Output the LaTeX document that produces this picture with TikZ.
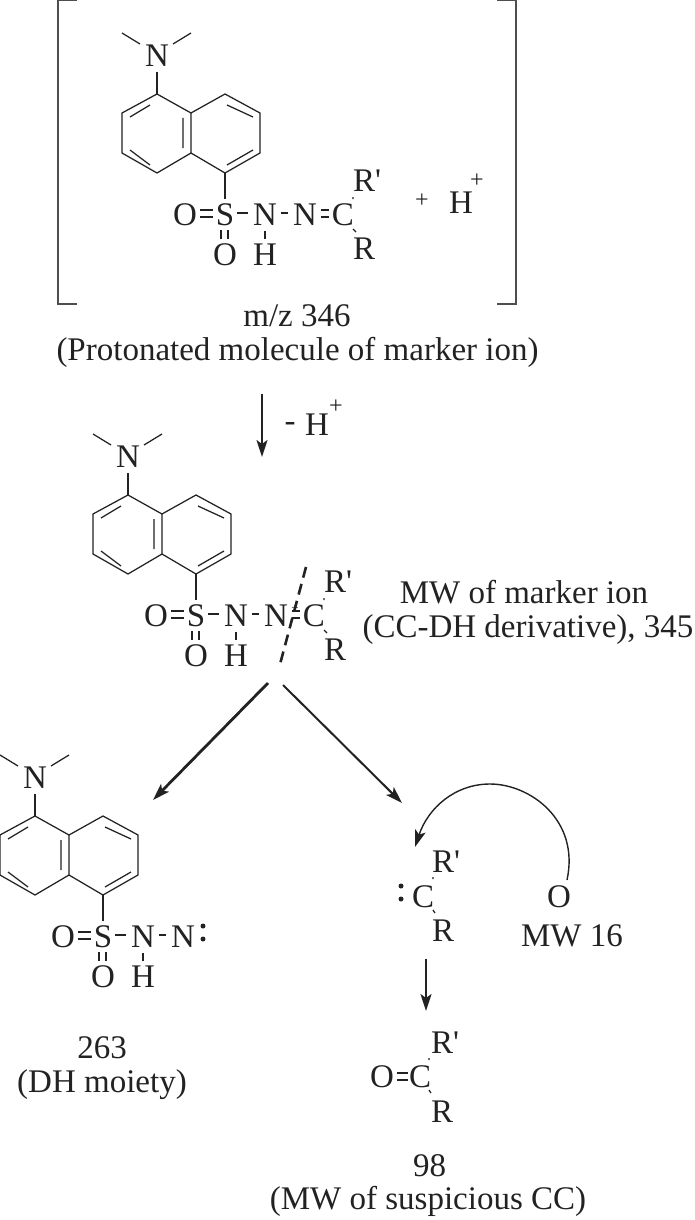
\documentclass[tikz,border=0pt]{standalone}
\usepackage{fontspec}
\setmainfont{Liberation Serif}
\usetikzlibrary{arrows.meta}
\definecolor{ink}{HTML}{222222}
\newcommand{\Rp}{R\textquotesingle}
\tikzset{
  x=1pt,y=-1pt,
  bond/.style={draw=ink,line width=1.25pt},
  atom/.style={text=ink,inner sep=0pt,font=\fontsize{33}{33}\selectfont},
  lab/.style={text=ink,inner sep=0pt,anchor=base,font=\fontsize{33}{33}\selectfont},
  small/.style={text=ink,inner sep=0pt,font=\fontsize{24}{24}\selectfont},
  rarrow/.style={draw=ink,line width=2pt,-{Stealth[length=17pt,width=11pt,inset=4pt]}},
  dot/.style={fill=ink,draw=none,circle,minimum size=5pt,inner sep=0pt},
}
\newcommand{\dansyl}[1]{%
  \node[atom] (#1N) at (157,56) {N};
  \draw[bond] (140,44) -- (122,33) (173,44) -- (191,33);
  \draw[bond] (157,72) -- (157,94);
  \draw[bond] (157,94) -- (122,113) -- (122,153) -- (157,173) -- (191,153) -- (191,113) -- cycle;
  \draw[bond] (191,113) -- (225,94) -- (260,113) -- (260,153) -- (225,173) -- (191,153);
  \draw[bond] (130,117) -- (150,105) (130,150) -- (150,165) (183,118) -- (183,148);
  \draw[bond] (227,105) -- (253,117) (227,165) -- (253,150);
  \draw[bond] (225,173) -- (225,199);
  \node[atom] (#1S) at (225,215) {S};
  \node[atom] (#1O) at (185,215) {O};
  \node[atom] (#1Ob) at (225,255) {O};
  \node[atom] (#1Nh) at (265,215) {N};
  \node[atom] (#1H) at (265,255) {H};
  \node[atom] (#1Nb) at (305,215) {N};
  \draw[bond] (200,210) -- (213,210) (200,217) -- (213,217);
  \draw[bond] (237,213) -- (248,213) (281,213) -- (288,213);
  \draw[bond] (221,230) -- (221,239) (228,230) -- (228,239);
  \draw[bond] (265,231) -- (265,239);
}
\newcommand{\imine}[1]{%
  \draw[bond] (321,210) -- (329,210) (321,217) -- (329,217);
  \node[atom] (#1C) at (343,215) {C};
  \node[atom,anchor=west] (#1Rp) at (353,181) {\Rp};
  \node[atom,anchor=west] (#1R) at (353,249) {R};
  \draw[bond] (353,197) -- (353,199) (353,229) -- (356,232);
}
\begin{document}
\begin{tikzpicture}
\useasboundingbox (0,0) rectangle (694,1220);
% bracket
\draw[draw=ink!80,line width=1.3pt] (77,0.7) -- (58,0.7) -- (58,304) -- (77,304);
\draw[draw=ink!80,line width=1.3pt] (497,0.7) -- (516,0.7) -- (516,304) -- (497,304);
% first molecule
\dansyl{a}
\imine{a}
\node[small] (plus) at (422,201) {+};
\node[atom] (hp) at (461,203) {H};
\node[small] (hps) at (477,181) {+};
\node[lab] (t1) at (297,326) {m/z 346};
\node[lab] (t2) at (297.5,360) {(Protonated molecule of marker ion)};
% arrow 1
\coordinate (a1s) at (262,394);
\coordinate (a1e) at (262,457);
\draw[rarrow] (a1s) -- (a1e);
\node[atom] (mh) at (290,427) {-};
\node[atom] (mhh) at (317,425) {H};
\node[small] (mhp) at (336,407) {+};
% second molecule
\begin{scope}[shift={(-29,401)}]
\dansyl{b}
\imine{b}
\node[text=ink,inner sep=0pt,font=\fontsize{13}{13}\selectfont] (bplus) at (324,208) {+};
\end{scope}
\coordinate (cuts) at (306,567);
\coordinate (cute) at (279,668);
\draw[draw=ink,line width=2.6pt,dash pattern=on 11pt off 6.5pt] (cuts) -- (cute);
\node[lab] (t3) at (524,603) {MW of marker ion};
\node[lab] (t4) at (528,637) {(CC-DH derivative), 345};
% split arrows
\coordinate (l1) at (268,683);
\coordinate (l2) at (153,800);
\coordinate (r1) at (283,685);
\coordinate (r2) at (402,803);
\draw[rarrow,line width=2.8pt] (l1) -- (l2);
\draw[rarrow] (r1) -- (r2);
% third molecule
\begin{scope}[shift={(-122,722)}]
\dansyl{c}
\node[dot] (cd1) at (325,204) {};
\node[dot] (cd2) at (325,217) {};
\end{scope}
\node[lab] (t5) at (102,1058) {263};
\node[lab] (t6) at (102,1092) {(DH moiety)};
% carbene
\node[dot] (kd1) at (401,886) {};
\node[dot] (kd2) at (401,899) {};
\node[atom] (kC) at (423,897) {C};
\node[atom,anchor=west] (kRp) at (432,862) {\Rp};
\node[atom,anchor=west] (kR) at (432,931) {R};
\draw[bond] (433,877) -- (433,879) (433,910) -- (435,913);
\node[atom] (kO) at (559,897) {O};
\node[lab] (t7) at (572,946) {MW 16};
\coordinate (cs) at (567,880);
\coordinate (ce) at (415,847);
\draw[draw=ink,line width=1.4pt,-{Stealth[length=17pt,width=11pt,inset=4pt]}] (cs) .. controls (580,820) and (530,784) .. (490,784) .. controls (455,784) and (428,808) .. (ce);
% arrow 4
\coordinate (a4s) at (426,959);
\coordinate (a4e) at (426,1011);
\draw[rarrow] (a4s) -- (a4e);
% ketone
\node[atom] (pO) at (382,1077) {O};
\draw[bond] (397,1073) -- (408,1073) (397,1080) -- (408,1080);
\node[atom] (pC) at (420,1077) {C};
\node[atom,anchor=west] (pRp) at (431,1043) {\Rp};
\node[atom,anchor=west] (pR) at (431,1112) {R};
\draw[bond] (429,1058) -- (429,1060) (429,1090) -- (431,1093);
\node[lab] (t8) at (429.5,1176) {98};
\node[lab] (t9) at (428,1209) {(MW of suspicious CC)};
\end{tikzpicture}
\end{document}
